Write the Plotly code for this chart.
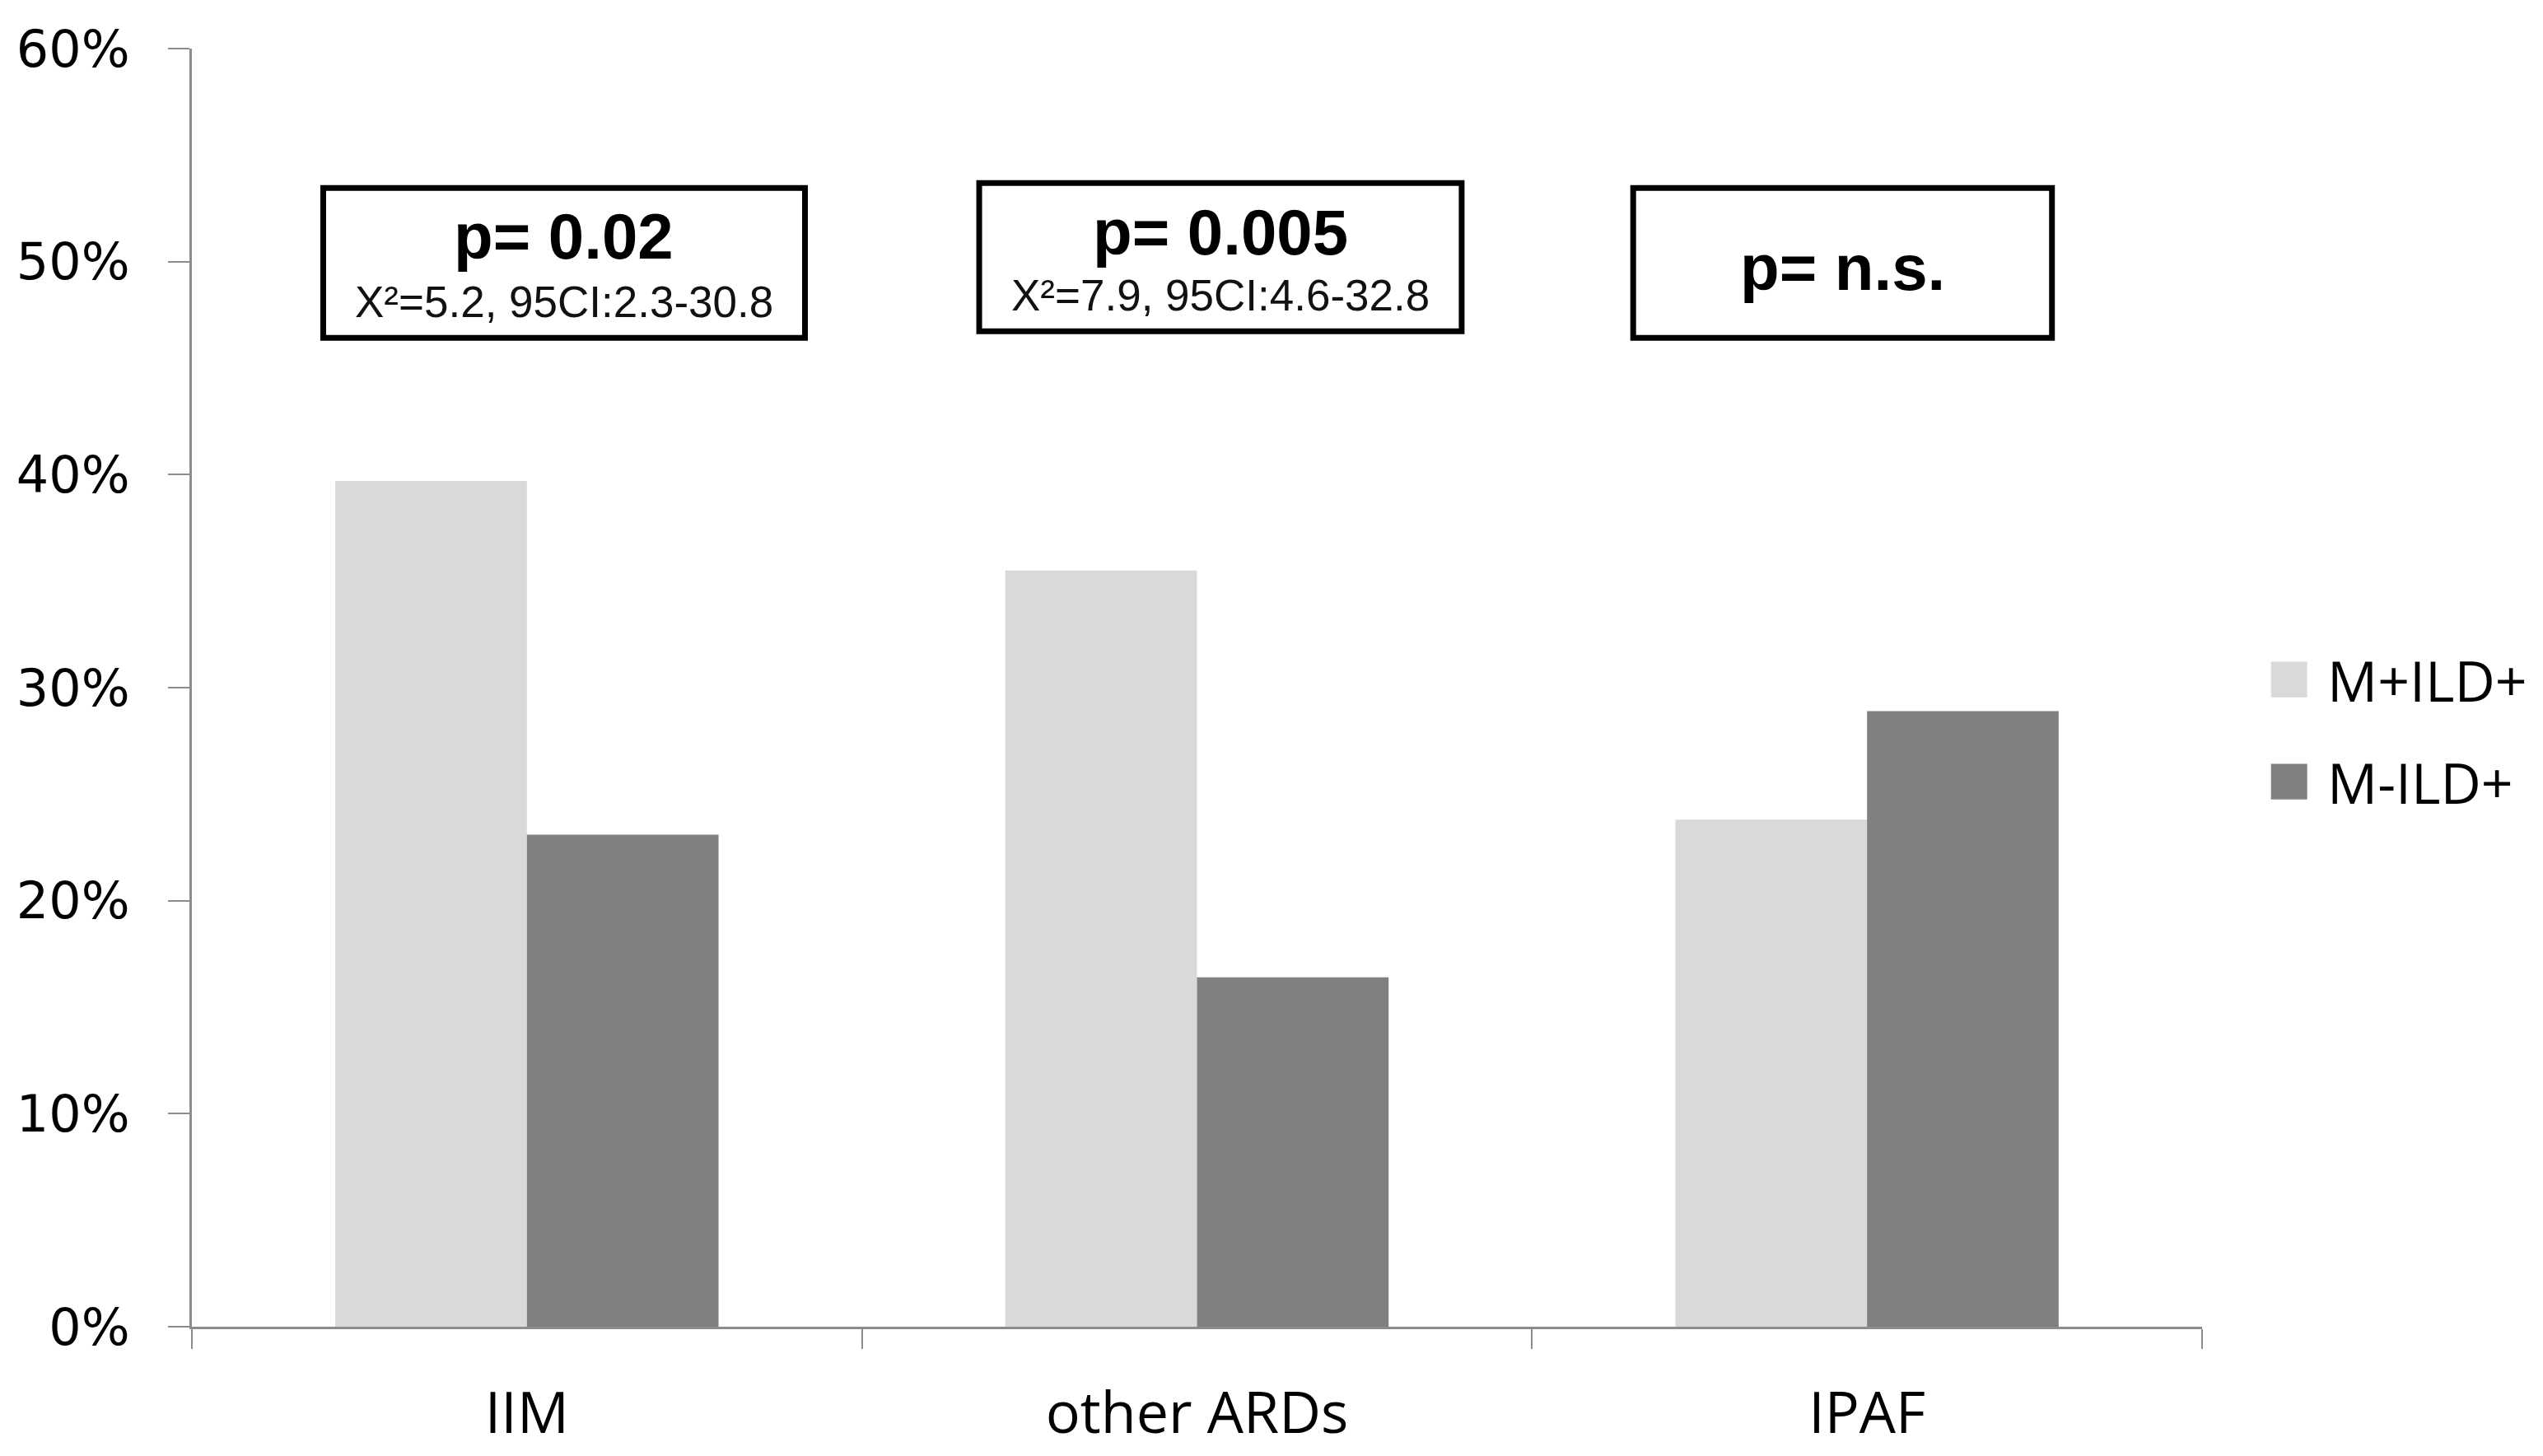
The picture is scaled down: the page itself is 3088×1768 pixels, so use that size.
import plotly.graph_objects as go

categories = ["IIM", "other ARDs", "IPAF"]
series_names = ["M+ILD+", "M-ILD+"]
m_pos_ild_pos = [0.397, 0.355, 0.238]
m_neg_ild_pos = [0.231, 0.164, 0.289]
colors = ["#D9D9D9", "#808080"]
y_ticks = [0, 0.1, 0.2, 0.3, 0.4, 0.5, 0.6]

p_main = ["p= 0.02", "p= 0.005", "p= n.s."]
p_sub = ["X²=5.2, 95CI:2.3-30.8", "X²=7.9, 95CI:4.6-32.8", ""]

fig = go.Figure()
for name, vals, col in zip(series_names, [m_pos_ild_pos, m_neg_ild_pos], colors):
    fig.add_trace(go.Bar(x=categories, y=vals, name=name, marker=dict(color=col, line=dict(width=0)),
                         showlegend=False))

# annotation boxes (x in category units, y in data units)
boxes = [(-0.304, 0.415, 0.4642, 0.5346), (0.675, 1.395, 0.4673, 0.5369), (1.651, 2.276, 0.4642, 0.5346)]
main_y = [0.5118, 0.5137, 0.4971]
sub_y = [0.4813, 0.4843, None]
for i, (x0, x1, y0, y1) in enumerate(boxes):
    fig.add_shape(type="rect", xref="x", yref="y", x0=x0, x1=x1, y0=y0, y1=y1,
                  line=dict(color="black", width=7), fillcolor="white", layer="above")
    xc = (x0 + x1) / 2
    fig.add_annotation(x=xc, y=main_y[i], xref="x", yref="y", text="<b>" + p_main[i] + "</b>",
                       showarrow=False, font=dict(family="Liberation Sans, Arial", size=78, color="black"))
    if p_sub[i]:
        fig.add_annotation(x=xc, y=sub_y[i], xref="x", yref="y", text=p_sub[i],
                           showarrow=False, font=dict(family="Liberation Sans, Arial", size=53, color="#111"))

# manual legend
leg_y = [0.5064, 0.4265]
for name, col, ly in zip(series_names, colors, leg_y):
    fig.add_shape(type="rect", xref="paper", yref="paper", x0=1.0343, x1=1.0523,
                  y0=ly - 0.0139, y1=ly + 0.0139, line=dict(width=0), fillcolor=col)
    fig.add_annotation(x=1.0615, y=ly, xref="paper", yref="paper", text=name, showarrow=False,
                       xanchor="left", yanchor="middle",
                       font=dict(family="Open Sans", size=68, color="black"))

fig.update_layout(
    width=3088, height=1768,
    margin=dict(l=212, r=422, t=51, b=165, pad=0),
    paper_bgcolor="white", plot_bgcolor="white",
    barmode="group", bargap=0.428, bargroupgap=0,
    showlegend=False,
)
fig.update_xaxes(
    type="category", range=[-0.5, 2.5],
    showline=True, linecolor="#8C8C8C", linewidth=3,
    ticks="outside", tickson="boundaries", ticklen=24, tickwidth=2, tickcolor="#8C8C8C",
    ticklabelstandoff=42,
    tickfont=dict(family="Open Sans", size=70, color="black"),
    showgrid=False, zeroline=False,
)
fig.update_yaxes(
    range=[0, 0.6], tickvals=y_ticks, tickformat=".0%",
    showline=True, linecolor="#8C8C8C", linewidth=3,
    ticks="outside", ticklen=26, tickwidth=2, tickcolor="#8C8C8C",
    ticklabelstandoff=34,
    tickfont=dict(family="DejaVu Sans", size=62, color="black"),
    showgrid=False, zeroline=False,
)

fig.write_html("out.html")
